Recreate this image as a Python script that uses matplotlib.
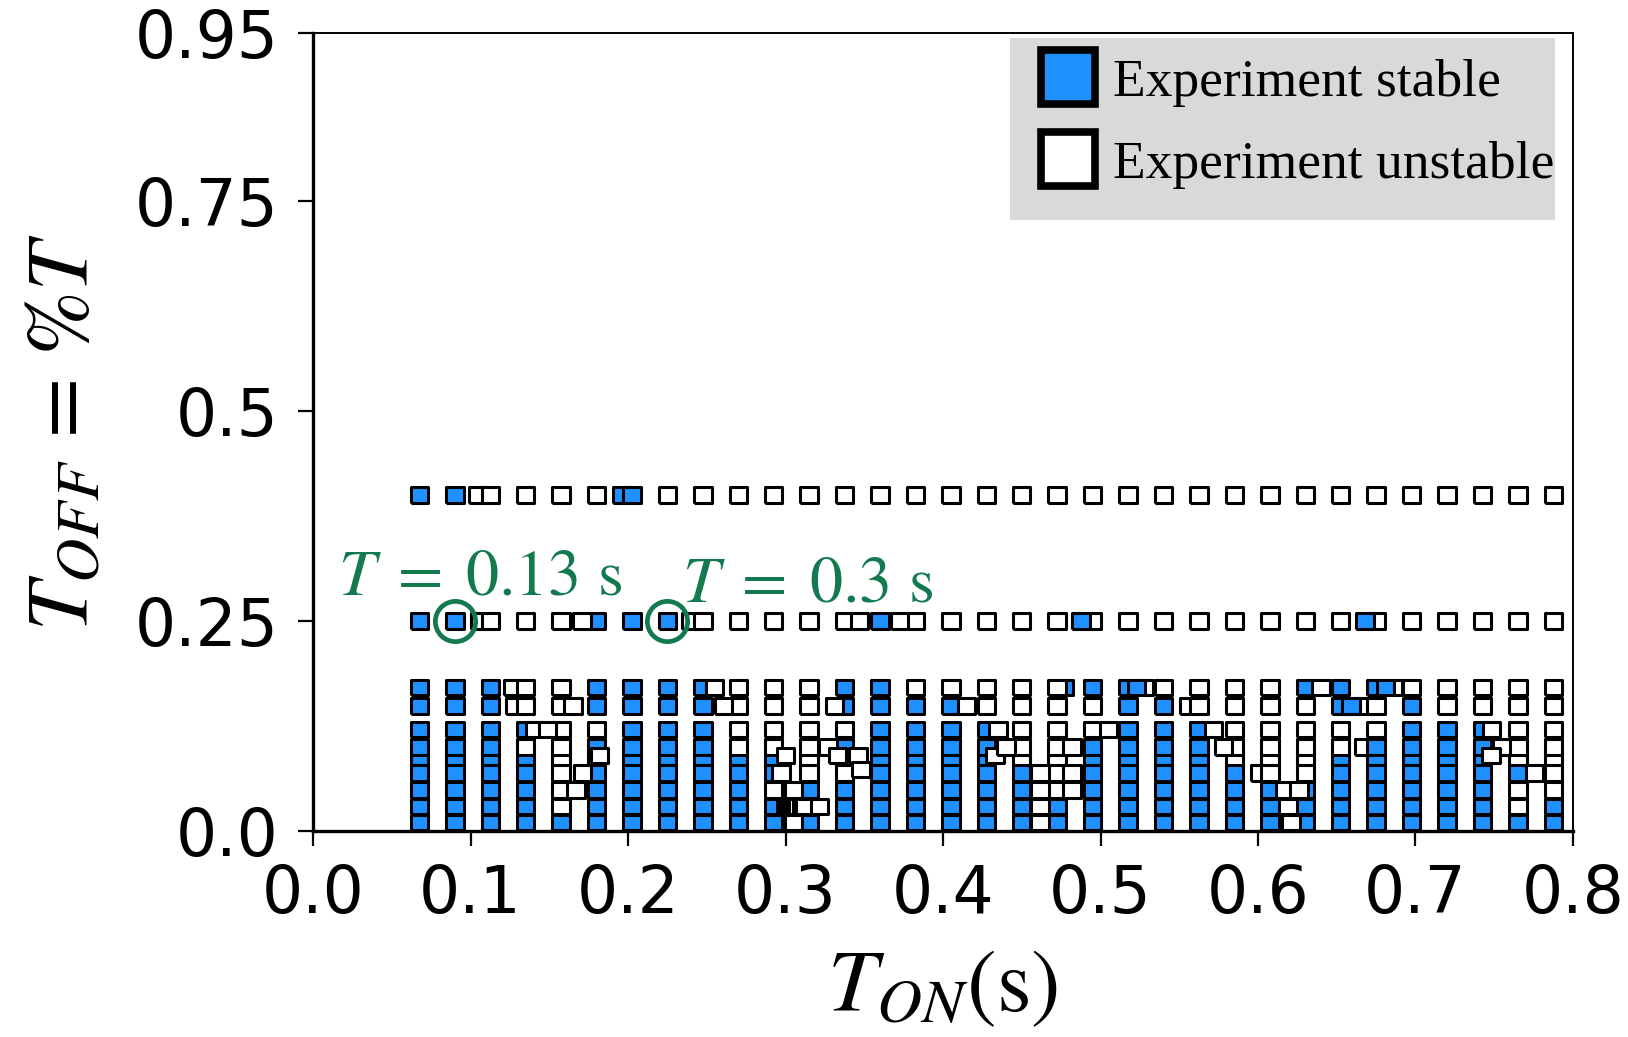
import numpy as np
import matplotlib
matplotlib.use("Agg")
import matplotlib.pyplot as plt
from matplotlib.lines import Line2D
from matplotlib.patches import Rectangle

plt.rcParams['mathtext.fontset'] = 'stix'

# T_ON grid (s), one column per value
t_on = [0.0675, 0.09, 0.1125, 0.135, 0.1575, 0.18, 0.2025, 0.225, 0.2475, 0.27, 0.2925,
        0.315, 0.3375, 0.36, 0.3825, 0.405, 0.4275, 0.45, 0.4725, 0.495, 0.5175,
        0.54, 0.5625, 0.585, 0.6075, 0.63, 0.6525, 0.675, 0.6975, 0.72, 0.7425,
        0.765, 0.7875]

# low T_OFF rows (bottom to top) and per-column outcome, B = stable, W = unstable
low_rows = [0.010, 0.029, 0.049, 0.069, 0.0845, 0.100, 0.121, 0.149, 0.171]
low_state = ["BBBBBBBBB", "BBBBBBBBB", "BBBBBBBBB", "BBBBBWBWW", "BWWWWWWWW",
             "BBBBBBWBB", "BBBBBBBBB", "BBBBBBBBB", "BBBBBBBBB", "BBBBBWWWW",
             "BBWBBWWWW", "BWBWWWWWW", "BBBWBBWBB", "BBBBBBBBB", "BBBBBBBBW",
             "BBBBBBBBW", "BBBBBBBWW", "BBBBWWWWW", "BBWWWWWWW", "BBBBBBWWB",
             "BBBBBBBBB", "BBBBBBBBW", "BBBBBBBWW", "BBBBWWWWW", "BBBWWWWWW",
             "BBBWWWWWB", "BBBBBWWBB", "BBBBBBWWB", "BBBBBBBBW", "BBBBBBBWW",
             "BBBBBBBWW", "BWWBWWWWW", "BBWWWWWWW"]

# rows at T_OFF = 0.25 T and 0.4 T
row_025 = "BBWWWBBBWWWWWBWWWWWWWWWWWWWWWWWWW"
row_040 = "BBWWWWBWWWWWWWWWWWWWWWWWWWWWWWWWW"

# off-grid runs, drawn below the grid
under_x = [0.1047, 0.196, 0.106, 0.240, 0.1265, 0.128, 0.477, 0.528, 0.556, 0.601, 0.667, 0.667, 0.686]
under_y = [0.40, 0.40, 0.25, 0.25, 0.171, 0.149, 0.171, 0.171, 0.149, 0.069, 0.149, 0.100, 0.171]
under_s = "WBWWWWBWWWWWW"

# off-grid runs, drawn above the grid
over_x = [0.1708, 0.347, 0.3725, 0.4875, 0.668,
          0.1405, 0.1487, 0.165, 0.171, 0.167, 0.182,
          0.2548, 0.2605, 0.297, 0.300, 0.305, 0.305,
          0.300, 0.302, 0.304, 0.306, 0.308, 0.310, 0.312, 0.3215,
          0.331, 0.327, 0.333, 0.346, 0.348, 0.415, 0.435, 0.433,
          0.440, 0.4617, 0.4617, 0.4617, 0.4617, 0.482, 0.482, 0.482,
          0.505, 0.523, 0.5717, 0.578, 0.617, 0.626, 0.619, 0.621,
          0.640, 0.659, 0.681, 0.7483, 0.7545, 0.748, 0.7754]
over_y = [0.25, 0.25, 0.25, 0.25, 0.25,
          0.121, 0.121, 0.149, 0.069, 0.049, 0.0897,
          0.171, 0.149, 0.069, 0.0897, 0.049, 0.010,
          0.029, 0.029, 0.029, 0.029, 0.029, 0.029, 0.029, 0.029,
          0.149, 0.100, 0.0897, 0.0897, 0.073, 0.149, 0.121, 0.0897,
          0.100, 0.010, 0.029, 0.049, 0.069, 0.049, 0.069, 0.100,
          0.121, 0.171, 0.121, 0.100, 0.049, 0.049, 0.029, 0.010,
          0.171, 0.149, 0.171, 0.121, 0.100, 0.0897, 0.069]
over_s = "WWWBB" + "WWWWWW" + "WWWWWW" + "WWWWWWWW" + "WWWWWWWW" + \
         "WWWWWWWW" + "WBWWWWWW" + "WBBWWWW"

circle_x = [0.09, 0.225]
circle_y = [0.25, 0.25]
labels_T = ['$T$ = 0.13 s', '$T$ = 0.3 s']
label_x = [0.016, 0.234]
label_y = [0.282, 0.273]

BLUE = '#1E90FF'
GREEN = '#13794F'
colors = {'B': BLUE, 'W': 'white'}

# slightly wide rectangle, like the source
rect = [(-0.5, -0.442), (0.5, -0.442), (0.5, 0.442), (-0.5, 0.442), (-0.5, -0.442)]
MS = 158
EW = 2.2


def squares(xs, ys, states, z):
    ax.scatter(xs, ys, s=MS, marker=rect, c=[colors[k] for k in states],
               edgecolors='black', linewidths=EW, zorder=z, clip_on=False)


fig = plt.figure(figsize=(16.28, 10.37), dpi=100)
ax = fig.add_axes([0.1923, 0.1986, 0.7739, 0.7696])

squares(under_x, under_y, under_s, 2)

# grid: the 0.0845 row first so it's mostly hidden
order = [4, 0, 1, 2, 3, 5, 6, 7, 8]
gx, gy, gs = [], [], []
for r in order:
    for i, x in enumerate(t_on):
        gx.append(x)
        gy.append(low_rows[r])
        gs.append(low_state[i][r])
for i, x in enumerate(t_on):
    gx += [x, x]
    gy += [0.25, 0.40]
    gs += [row_025[i], row_040[i]]
squares(gx, gy, gs, 3)

squares(over_x, over_y, over_s, 4)

ax.plot(circle_x, circle_y, 'o', ms=29, mfc='none', mec=GREEN, mew=3.4, zorder=5)
for t, x, y in zip(labels_T, label_x, label_y):
    ax.text(x, y, t.replace(' = ', r'$\;=\;$'), color=GREEN, fontsize=47.5,
            family='STIXGeneral', zorder=6)

ax.set_xlim(0, 0.8)
ax.set_ylim(0, 0.95)
ax.set_xticks([0, 0.1, 0.2, 0.3, 0.4, 0.5, 0.6, 0.7, 0.8])
ax.set_xticklabels(['0.0', '0.1', '0.2', '0.3', '0.4', '0.5', '0.6', '0.7', '0.8'])
ax.set_yticks([0, 0.25, 0.5, 0.75, 0.95])
ax.set_yticklabels(['0.0', '0.25', '0.5', '0.75', '0.95'])
ax.tick_params(axis='both', labelsize=46.5, length=11, width=1.6)
ax.tick_params(axis='y', pad=14)
ax.tick_params(axis='x', pad=12)
for side in ['left', 'bottom']:
    ax.spines[side].set_linewidth(2.4)
for side in ['top', 'right']:
    ax.spines[side].set_linewidth(1.4)

ax.set_xlabel('$T_{ON}$(s)', fontsize=64, family='STIXGeneral', labelpad=16)
ax.set_ylabel('$T_{OFF}$ = %$T$', fontsize=63, family='STIXGeneral', labelpad=20)

# grey legend panel
ax.add_patch(Rectangle((0.553, 0.7657), 0.4327, 0.228, transform=ax.transAxes,
                       facecolor='#D9D9D9', edgecolor='none', zorder=6, clip_on=False))
handles = [Line2D([], [], ls='none', marker='s', ms=38.5, mfc=BLUE, mec='black', mew=5.5),
           Line2D([], [], ls='none', marker='s', ms=38.5, mfc='white', mec='black', mew=5.5)]
leg = ax.legend(handles, ['Experiment stable', 'Experiment unstable'],
                loc='upper left', bbox_to_anchor=(0.578, 0.968),
                prop={'family': 'Liberation Serif', 'size': 38.5},
                frameon=False, handlelength=1.0, handletextpad=0.35,
                borderpad=0, labelspacing=0.62, borderaxespad=0)
leg.set_zorder(7)

fig.savefig('out.png', dpi=100)
